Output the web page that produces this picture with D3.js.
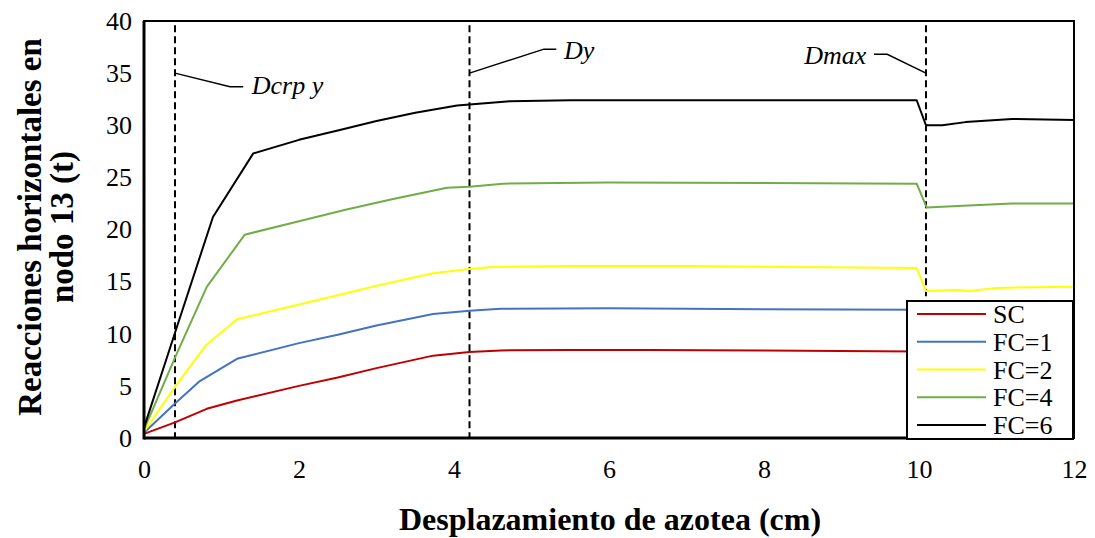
<!DOCTYPE html>
<html>
<head>
<meta charset="utf-8">
<script src="https://cdn.jsdelivr.net/npm/d3@7"></script>
<style>
  html, body { margin: 0; padding: 0; background: #fff; }
  svg { display: block; font-family: "Liberation Serif", serif; }
  svg text { font-family: "Liberation Serif", serif !important; fill: #000; }
</style>
</head>
<body>
<svg id="chart" width="1095" height="538"></svg>
<script>
// Roof displacement (cm) and horizontal reaction at node 13 (t) for each load case
const seriesNames = ["SC", "FC=1", "FC=2", "FC=4", "FC=6"];
const seriesColors = ["#c00000", "#4472c4", "#ffff00", "#70ad47", "#000000"];

const scX = [0, 0.4, 0.81, 1.2, 2.0, 2.5, 3.0, 3.73, 4.2, 4.6, 5.5, 6.5, 8.0, 9.97, 10.09, 10.6, 11.2, 12];
const scY = [0.4, 1.5, 2.8, 3.6, 5.0, 5.8, 6.7, 7.9, 8.25, 8.4, 8.45, 8.45, 8.4, 8.3, 6.1, 6.1, 6.3, 6.3];

const fc1X = [0, 0.4, 0.71, 1.2, 2.0, 2.5, 3.0, 3.73, 4.2, 4.6, 6.0, 8.0, 9.97, 10.09, 10.6, 11.2, 12];
const fc1Y = [0.5, 3.3, 5.4, 7.6, 9.1, 9.9, 10.8, 11.9, 12.2, 12.4, 12.45, 12.35, 12.3, 10.2, 10.2, 10.4, 10.4];

const fc2X = [0, 0.4, 0.8, 1.2, 2.0, 2.5, 3.0, 3.73, 4.2, 4.5, 5.5, 7.0, 9.97, 10.09, 10.5, 10.65, 11.0, 12];
const fc2Y = [0.6, 4.9, 8.9, 11.4, 12.8, 13.7, 14.6, 15.8, 16.2, 16.4, 16.5, 16.5, 16.3, 14.1, 14.2, 14.1, 14.4, 14.5];

const fc4X = [0, 0.4, 0.81, 1.3, 2.0, 2.6, 3.2, 3.91, 4.2, 4.63, 6.0, 8.0, 9.97, 10.1, 10.5, 11.2, 12];
const fc4Y = [0.8, 7.7, 14.5, 19.5, 20.8, 21.9, 22.9, 24.0, 24.1, 24.4, 24.5, 24.45, 24.4, 22.1, 22.25, 22.5, 22.5];

const fc6X = [0, 0.4, 0.89, 1.41, 2.0, 2.5, 3.0, 3.5, 4.04, 4.2, 4.72, 5.5, 8.0, 9.97, 10.09, 10.3, 10.6, 11.2, 12];
const fc6Y = [1.0, 10.1, 21.2, 27.3, 28.6, 29.5, 30.4, 31.2, 31.9, 32.0, 32.3, 32.4, 32.4, 32.4, 30.0, 30.0, 30.3, 30.6, 30.5];

const seriesX = [scX, fc1X, fc2X, fc4X, fc6X];
const seriesY = [scY, fc1Y, fc2Y, fc4Y, fc6Y];

// Reference displacements marked with dashed verticals
const markerNames = ["Dcrp y", "Dy", "Dmax"];
const markerX = [0.4, 4.2, 10.09];

const xTicks = [0, 2, 4, 6, 8, 10, 12];
const yTicks = [0, 5, 10, 15, 20, 25, 30, 35, 40];

const svg = d3.select("#chart");
const plot = { left: 144, right: 1074, top: 21, bottom: 438 };

const x = d3.scaleLinear().domain([0, 12]).range([plot.left, plot.right]);
const y = d3.scaleLinear().domain([0, 40]).range([plot.bottom, plot.top]);

// Axes: labels only, no tick marks
const xAxis = d3.axisBottom(x).tickValues(xTicks).tickSize(0).tickPadding(22).tickFormat(d3.format("d"));
const yAxis = d3.axisLeft(y).tickValues(yTicks).tickSize(0).tickPadding(12).tickFormat(d3.format("d"));

const gx = svg.append("g").attr("transform", `translate(0,${plot.bottom})`).call(xAxis);
const gy = svg.append("g").attr("transform", `translate(${plot.left},0)`).call(yAxis);
[gx, gy].forEach(g => {
  g.attr("font-family", null).attr("font-size", null);
  g.select(".domain").remove();
  g.selectAll("text").attr("font-size", 26).attr("fill", "#000");
});

// Dashed reference lines
svg.append("g").selectAll("line").data(markerX).join("line")
  .attr("x1", d => x(d)).attr("x2", d => x(d))
  .attr("y1", y(39.6)).attr("y2", plot.bottom)
  .attr("stroke", "#000").attr("stroke-width", 2).attr("stroke-dasharray", "7,4");

// Data series
const line = d3.line().x(d => x(d[0])).y(d => y(d[1]));
svg.append("g").selectAll("path").data(seriesNames).join("path")
  .attr("d", (d, i) => line(d3.zip(seriesX[i], seriesY[i])))
  .attr("fill", "none")
  .attr("stroke", (d, i) => seriesColors[i])
  .attr("stroke-width", 2)
  .attr("stroke-linejoin", "round");

// Callout leaders and labels for the reference lines
const callouts = [
  { pts: [[markerX[0], 35], [1.11, 33.7], [1.28, 33.7]], tx: 1.39, ty: 33.0, anchor: "start" },
  { pts: [[markerX[1], 35], [5.16, 37.3], [5.32, 37.3]], tx: 5.42, ty: 36.4, anchor: "start" },
  { pts: [[markerX[2], 35], [9.59, 36.8], [9.42, 36.8]], tx: 9.32, ty: 35.9, anchor: "end" }
];
const cg = svg.append("g");
callouts.forEach((c, i) => {
  cg.append("path").attr("d", line(c.pts)).attr("fill", "none").attr("stroke", "#000").attr("stroke-width", 1.5);
  cg.append("text").attr("x", x(c.tx)).attr("y", y(c.ty))
    .attr("text-anchor", c.anchor)
    .attr("font-size", 26).attr("font-style", "italic")
    .text(markerNames[i]);
});

// Plot frame
svg.append("rect")
  .attr("x", plot.left).attr("y", plot.top)
  .attr("width", plot.right - plot.left).attr("height", plot.bottom - plot.top)
  .attr("fill", "none").attr("stroke", "#000").attr("stroke-width", 2);
svg.append("line").attr("x1", plot.left).attr("x2", plot.left).attr("y1", plot.top).attr("y2", plot.bottom + 1.5)
  .attr("stroke", "#000").attr("stroke-width", 3);
svg.append("line").attr("x1", plot.left).attr("x2", plot.right).attr("y1", plot.bottom).attr("y2", plot.bottom)
  .attr("stroke", "#000").attr("stroke-width", 3);

// Legend
const lg = svg.append("g").attr("transform", "translate(907,301)");
lg.append("rect").attr("width", 166).attr("height", 138).attr("fill", "#fff").attr("stroke", "#000").attr("stroke-width", 2);
const rowY = i => 13 + i * 27.75;
lg.selectAll("line.key").data(seriesNames).join("line")
  .attr("class", "key")
  .attr("x1", 10).attr("x2", 79)
  .attr("y1", (d, i) => rowY(i)).attr("y2", (d, i) => rowY(i))
  .attr("stroke", (d, i) => seriesColors[i]).attr("stroke-width", 2);
lg.selectAll("text").data(seriesNames).join("text")
  .attr("x", 86).attr("y", (d, i) => rowY(i) + 9)
  .attr("font-size", 26)
  .text(d => d);

// Axis titles
svg.append("text").attr("x", 610).attr("y", 530).attr("text-anchor", "middle")
  .attr("font-size", 32).attr("font-weight", "bold")
  .text("Desplazamiento de azotea (cm)");
const yt = svg.append("text").attr("transform", "translate(0,227) rotate(-90)")
  .attr("text-anchor", "middle").attr("font-size", 33).attr("font-weight", "bold");
yt.append("tspan").attr("x", 0).attr("y", 41).text("Reacciones horizontales en");
yt.append("tspan").attr("x", 0).attr("y", 73).text("nodo 13 (t)");
</script>
</body>
</html>
